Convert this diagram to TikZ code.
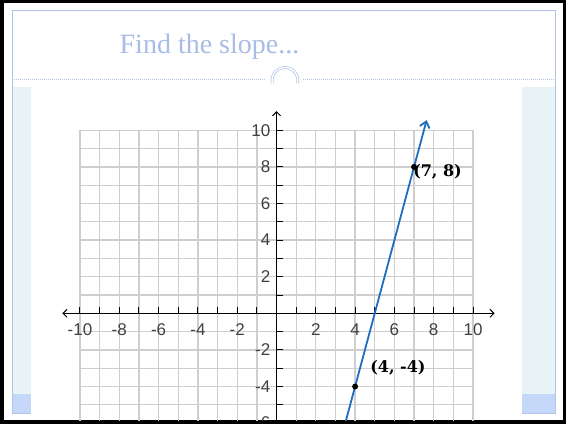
\documentclass[tikz,border=0pt]{standalone}
\usepackage{fontspec}
\setmainfont{Liberation Serif}
\newfontfamily\axisfont{Liberation Sans}
\newfontfamily\pointfont{DejaVu Serif}
\usetikzlibrary{arrows.meta, positioning, calc}

\definecolor{frameblue}{RGB}{176,196,232}
\definecolor{titleblue}{RGB}{168,188,230}
\definecolor{panelteal}{RGB}{232,243,245}
\definecolor{stripblue}{RGB}{197,216,250}
\definecolor{gridgray}{RGB}{206,206,206}
\definecolor{lineblue}{RGB}{28,110,190}

\begin{document}
\begin{tikzpicture}[
			x=1bp, y=1bp,
			every node/.style={inner sep=0pt},
			gridline/.style={draw=gridgray, line width=1.3bp},
			axisline/.style={black, line width=1bp},
			ticktext/.style={font=\axisfont\fontsize{17bp}{17bp}\selectfont, text=black!75},
			ptdot/.style={circle, fill=black, minimum size=6bp},
			ptlabel/.style={font=\pointfont\bfseries\fontsize{16bp}{16bp}\selectfont},
			slopeline/.style={lineblue, line width=1.8bp, -{Straight Barb[length=6bp, width=10bp]}}
			]
			
			% Marco
			\fill[black] (0,0) rectangle (566,424);
			\fill[white] (4,4) rectangle (563,421);
			
			% Paneles laterales
			\fill[panelteal] (12.3,11) rectangle (31,337);
			\fill[panelteal] (522,11) rectangle (555.5,337);
			\fill[stripblue] (12.3,11) rectangle (31,30);
			\fill[stripblue] (522,11) rectangle (555.5,30);
			\draw[frameblue, line width=1bp] (12.3,11) rectangle (555.5,413.7);
			\fill[white] (31,4) rectangle (522,337);
			
			% Titulo
			\node[font=\fontsize{28bp}{28bp}\selectfont, text=titleblue, anchor=base] (title)
			at (209.5,371) {Find the slope...};
			
			\draw[frameblue, line width=0.7bp, dash pattern=on 1bp off 1bp]
			(12.3,344.7) -- (266,344.7)
			(303,344.7) -- (555.5,344.7);
			\coordinate (knob) at (285,343.5);
			\draw[frameblue, double=white, double distance=1.4bp, line width=0.7bp]
			([shift={(-12:13)}]knob) arc[start angle=-12, end angle=192, radius=13];
			
			% Plano
			\begin{scope}
				\clip (31,4) rectangle (522,337);
				\begin{scope}[shift={(276.5,110.7)}, x=19.65bp, y=18.3bp]
					\foreach \i in {-10,...,10}
					\draw[gridline] (\i,-7) -- (\i,10);
					\foreach \j in {-7,...,10}
					\draw[gridline] (-10,\j) -- (10,\j);
					
					% Ejes
					\draw[axisline, {Straight Barb[length=4bp, width=8bp]}-{Straight Barb[length=4bp, width=8bp]}]
					(-10.9,0) -- (11.1,0);
					\draw[axisline, -{Straight Barb[length=4bp, width=8bp]}] (0,-7) -- (0,11.05);
					\foreach \i in {-10,...,-1,1,2,...,10}
					\draw[axisline] (\i,0) -- ++(0,6bp);
					\foreach \j in {-7,...,-1,1,2,...,10}
					\draw[axisline] (0,\j) -- ++(6bp,0);
					\foreach \i in {-10,-8,-6,-4,-2,2,4,6,8,10}
					\node[ticktext, anchor=north] (xl\i) at ([yshift=-10bp]\i,0) {\i};
					\foreach \j in {-6,-4,-2,2,4,6,8,10}
					\node[ticktext, anchor=east] (yl\j) at ([xshift=-6bp]0,\j) {\j};
					
					% Recta
					\coordinate (pa) at (4,-4);
					\coordinate (pb) at (7,8);
					\coordinate (lnstart) at ($(pa)!-0.3!(pb)$);
					\coordinate (lnend) at ($(pa)!1.213!(pb)$);
					\draw[slopeline] (lnstart) -- (lnend);
					
					\node[ptdot] (p1) at (pa) {};
					\node[ptdot] (p2) at (pb) {};
					\node[ptlabel, anchor=west] (lab1) at ([xshift=15bp, yshift=19bp]p1.center) {(4, -4)};
					\node[ptlabel, anchor=west] (lab2) at ([xshift=-1bp, yshift=-5bp]p2.center) {(7, 8)};
				\end{scope}
			\end{scope}
			
		\end{tikzpicture}
\end{document}
